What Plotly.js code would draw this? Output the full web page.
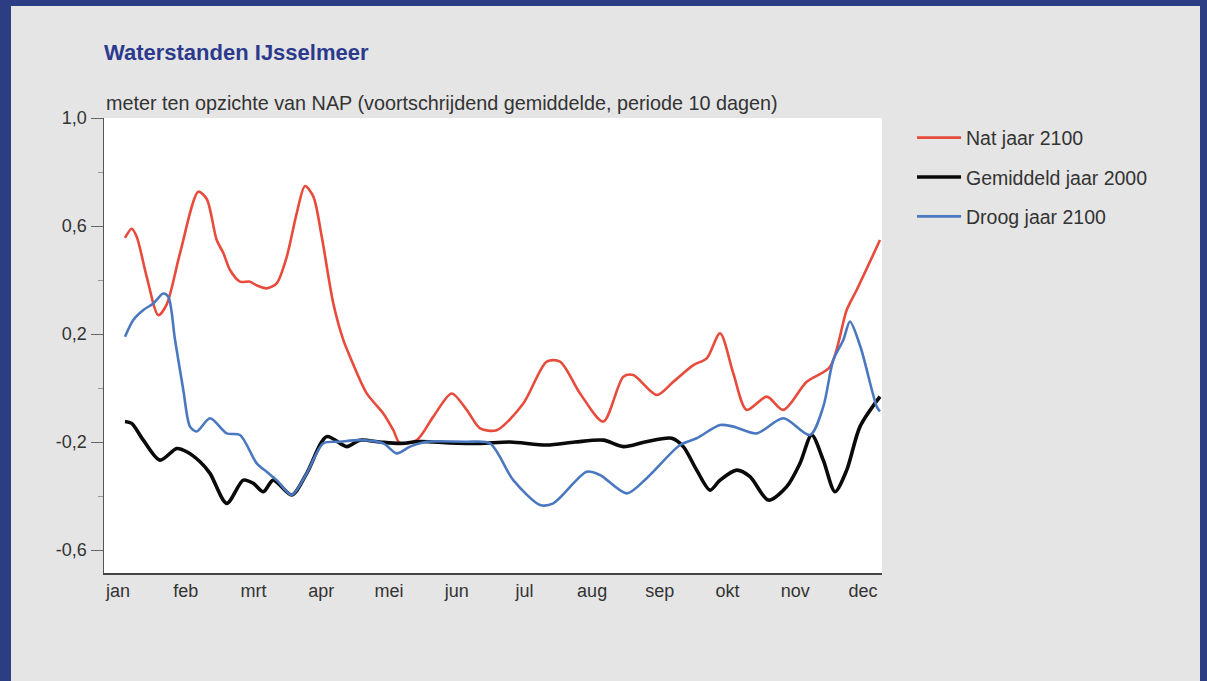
<!DOCTYPE html>
<html>
<head>
<meta charset="utf-8">
<script src="https://cdn.plot.ly/plotly-3.0.1.min.js"></script>
<style>
  html, body { margin: 0; padding: 0; width: 1207px; height: 681px; overflow: hidden; background: #2c3d84; }
  #chart { position: absolute; left: 11px; top: 6px; width: 1189px; height: 675px; }
</style>
</head>
<body>
<div id="chart"></div>
<script>
// x in months (0 = jan, 11 = dec), y in meter t.o.v. NAP
const monthLabels = ['jan','feb','mrt','apr','mei','jun','jul','aug','sep','okt','nov','dec'];
const monthPos = [0,1,2,3,4,5,6,7,8,9,10,11];

const natX = [0.103,0.202,0.276,0.424,0.595,0.719,0.915,1.186,1.310,1.457,1.555,1.654,1.801,1.949,2.048,2.195,2.343,2.491,2.638,2.761,2.884,3.008,3.179,3.326,3.425,3.672,3.917,4.065,4.164,4.410,4.655,4.927,5.148,5.345,5.591,5.984,6.330,6.526,6.822,7.165,7.461,7.608,7.954,8.199,8.494,8.692,8.889,9.085,9.282,9.578,9.823,10.168,10.513,10.759,10.906,11.250];
const natY = [0.556,0.59,0.56,0.412,0.27,0.31,0.499,0.727,0.70,0.548,0.50,0.437,0.394,0.394,0.38,0.369,0.388,0.486,0.647,0.748,0.709,0.56,0.313,0.178,0.116,-0.02,-0.094,-0.156,-0.205,-0.193,-0.106,-0.02,-0.081,-0.149,-0.156,-0.057,0.098,0.098,-0.02,-0.124,0.042,0.048,-0.026,0.023,0.085,0.11,0.203,0.054,-0.081,-0.032,-0.081,0.023,0.079,0.289,0.363,0.548];

const gemX = [0.103,0.202,0.374,0.620,0.867,1.014,1.211,1.358,1.605,1.850,1.998,2.145,2.293,2.565,2.786,3.081,3.377,3.573,3.868,4.164,4.459,4.902,5.345,5.788,6.330,6.748,7.165,7.461,7.781,8.175,8.346,8.544,8.741,8.889,9.135,9.331,9.602,9.873,10.069,10.242,10.413,10.586,10.759,10.955,11.250];
const gemY = [-0.124,-0.131,-0.193,-0.267,-0.224,-0.236,-0.273,-0.316,-0.427,-0.341,-0.353,-0.384,-0.341,-0.396,-0.316,-0.18,-0.217,-0.193,-0.2,-0.205,-0.198,-0.203,-0.205,-0.2,-0.211,-0.2,-0.193,-0.217,-0.2,-0.186,-0.217,-0.304,-0.378,-0.341,-0.304,-0.328,-0.415,-0.365,-0.279,-0.174,-0.267,-0.384,-0.304,-0.143,-0.032];

const droogX = [0.103,0.226,0.374,0.521,0.669,0.743,0.842,0.964,1.063,1.162,1.358,1.605,1.801,2.048,2.195,2.343,2.565,2.786,3.031,3.278,3.573,3.917,4.115,4.311,4.558,5.148,5.492,5.836,6.231,6.427,6.920,7.116,7.511,7.806,8.298,8.544,8.889,9.085,9.430,9.823,10.217,10.413,10.561,10.709,10.807,10.965,11.202,11.250];
const droogY = [0.19,0.252,0.289,0.313,0.35,0.338,0.178,-0.007,-0.143,-0.161,-0.112,-0.168,-0.174,-0.279,-0.31,-0.341,-0.396,-0.316,-0.205,-0.199,-0.193,-0.205,-0.242,-0.217,-0.199,-0.199,-0.205,-0.341,-0.433,-0.427,-0.31,-0.322,-0.39,-0.334,-0.211,-0.186,-0.137,-0.143,-0.168,-0.112,-0.174,-0.069,0.104,0.178,0.246,0.15,-0.069,-0.087];

const yTickVals = [1.0,0.6,0.2,-0.2,-0.6];
const yTickText = ['1,0','0,6','0,2','-0,2','-0,6'];
const yMinorVals = [0.8,0.4,0.0,-0.4];

const FONT = 'Liberation Sans, Arial, Helvetica, sans-serif';

const traces = [
  {x: natX, y: natY, name: 'Nat jaar 2100', type: 'scatter', mode: 'lines', legendgroup: 'a',
   line: {color: '#e84a3b', width: 2.6, shape: 'spline', smoothing: 0.8}},
  {x: gemX, y: gemY, name: 'Gemiddeld jaar 2000', type: 'scatter', mode: 'lines', legendgroup: 'b',
   line: {color: '#0a0a0a', width: 3.6, shape: 'spline', smoothing: 0.8}},
  {x: droogX, y: droogY, name: 'Droog jaar 2100', type: 'scatter', mode: 'lines', legendgroup: 'c',
   line: {color: '#4a78c0', width: 2.6, shape: 'spline', smoothing: 0.8}}
];

const layout = {
  width: 1189, height: 675,
  margin: {l: 93, r: 318, t: 112, b: 108, pad: 0},
  paper_bgcolor: '#e5e5e5',
  plot_bgcolor: '#ffffff',
  font: {family: FONT, size: 18, color: '#333333'},
  showlegend: true,
  title: {text: 'Waterstanden IJsselmeer', xref: 'paper', x: 0, xanchor: 'left',
          yref: 'container', y: 0.932, yanchor: 'middle',
          font: {family: FONT, size: 22, color: '#2b3a8c', weight: 'bold'}},
  xaxis: {
    range: [-0.207, 11.28], tickmode: 'array', tickvals: monthPos, ticktext: monthLabels,
    showline: true, linecolor: '#444444', linewidth: 2, ticks: '', showgrid: false, zeroline: false,
    tickfont: {family: FONT, size: 18, color: '#333333'}, fixedrange: true
  },
  yaxis: {
    range: [-0.685, 1.0], tickmode: 'array', tickvals: yTickVals, ticktext: yTickText,
    showline: true, linecolor: '#555555', linewidth: 1.5, ticks: 'outside', ticklen: 12, tickcolor: '#666666', tickwidth: 1,
    minor: {tickmode: 'array', tickvals: yMinorVals, ticks: 'outside', ticklen: 5, tickcolor: '#999999', tickwidth: 1, showgrid: false},
    showgrid: false, zeroline: false,
    tickfont: {family: FONT, size: 18, color: '#333333'}, fixedrange: true
  },
  legend: {x: 1.0386, xanchor: 'left', y: 0.999, yanchor: 'top', bgcolor: 'rgba(0,0,0,0)',
           itemwidth: 44,
           font: {family: FONT, size: 19.5, color: '#333333'}, tracegroupgap: 11, traceorder: 'grouped'},
  annotations: [
    {text: 'meter ten opzichte van NAP (voortschrijdend gemiddelde, periode 10 dagen)',
     xref: 'paper', yref: 'paper', x: 0, xanchor: 'left', y: 1.033, yanchor: 'middle',
     showarrow: false, font: {family: FONT, size: 19.8, color: '#333333'}}
  ]
};

Plotly.newPlot('chart', traces, layout, {displayModeBar: false, staticPlot: true});
</script>
</body>
</html>
